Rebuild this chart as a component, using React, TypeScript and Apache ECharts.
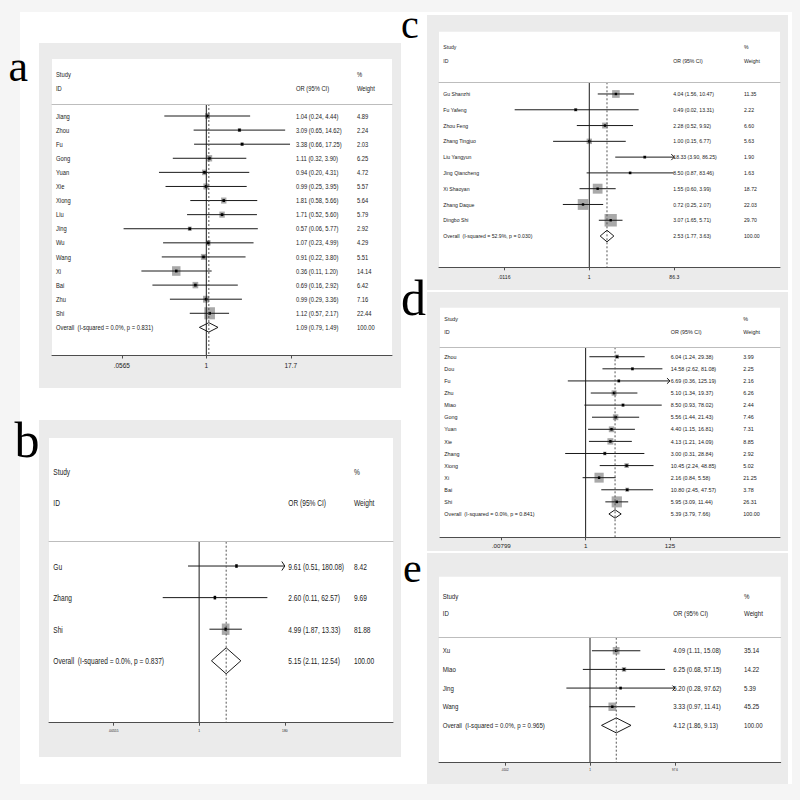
import React, { useEffect, useRef } from 'react';
import * as echarts from 'echarts';

const FONT = '"Liberation Sans", Arial, Helvetica, sans-serif';
const SERIF = '"Liberation Serif", "Times New Roman", serif';
const BOX = '#a9a9a9';
const INK = '#1a1a1a';
const TXT = '#222222';

// ---------- Panel a ----------
const aStudies = ['Jiang', 'Zhou', 'Fu', 'Gong', 'Yuan', 'Xie', 'Xiong', 'Liu', 'Jing', 'Wu', 'Wang', 'Xi', 'Bai', 'Zhu', 'Shi'];
const aOR = [1.04, 3.09, 3.38, 1.11, 0.94, 0.99, 1.81, 1.71, 0.57, 1.07, 0.91, 0.36, 0.69, 0.99, 1.12];
const aLow = [0.24, 0.65, 0.66, 0.32, 0.2, 0.25, 0.58, 0.52, 0.06, 0.23, 0.22, 0.11, 0.16, 0.29, 0.57];
const aHigh = [4.44, 14.62, 17.25, 3.9, 4.31, 3.95, 5.66, 5.6, 5.77, 4.99, 3.8, 1.2, 2.92, 3.36, 2.17];
const aWeight = [4.89, 2.24, 2.03, 6.25, 4.72, 5.57, 5.64, 5.79, 2.92, 4.29, 5.51, 14.14, 6.42, 7.16, 22.44];
const aOverall = [1.09, 0.79, 1.49];
const aHet = 'Overall  (I-squared = 0.0%, p = 0.831)';
const aTicks = [0.0565, 1, 17.7];
const aTickLabels = ['.0565', '1', '17.7'];

// ---------- Panel b ----------
const bStudies = ['Gu', 'Zhang', 'Shi'];
const bOR = [9.61, 2.6, 4.99];
const bLow = [0.51, 0.11, 1.87];
const bHigh = [180.08, 62.57, 13.33];
const bWeight = [8.42, 9.69, 81.88];
const bOverall = [5.15, 2.11, 12.54];
const bHet = 'Overall  (I-squared = 0.0%, p = 0.837)';
const bTicks = [0.00555, 1, 180];
const bTickLabels = ['.00555', '1', '180'];

// ---------- Panel c ----------
const cStudies = ['Gu Shanzhi', 'Fu Yafeng', 'Zhou Feng', 'Zhang Tingjuo', 'Liu Yangyun', 'Jing Qiancheng', 'Xi Shaoyan', 'Zhang Daque', 'Dingbo Shi'];
const cOR = [4.04, 0.49, 2.28, 1.0, 18.33, 8.5, 1.55, 0.72, 3.07];
const cLow = [1.56, 0.02, 0.52, 0.15, 3.9, 0.87, 0.6, 0.25, 1.65];
const cHigh = [10.47, 13.31, 9.92, 6.77, 86.25, 83.46, 3.99, 2.07, 5.71];
const cWeight = [11.35, 2.22, 6.6, 5.63, 1.9, 1.63, 18.72, 22.03, 29.7];
const cOverall = [2.53, 1.77, 3.63];
const cHet = 'Overall  (I-squared = 52.9%, p = 0.030)';
const cTicks = [0.0116, 1, 86.3];
const cTickLabels = ['.0116', '1', '86.3'];

// ---------- Panel d ----------
const dStudies = ['Zhou', 'Dou', 'Fu', 'Zhu', 'Miao', 'Gong', 'Yuan', 'Xie', 'Zhang', 'Xiong', 'Xi', 'Bai', 'Shi'];
const dOR = [6.04, 14.58, 6.69, 5.1, 8.5, 5.56, 4.4, 4.13, 3.0, 10.45, 2.16, 10.8, 5.95];
const dLow = [1.24, 2.62, 0.36, 1.34, 0.93, 1.44, 1.15, 1.21, 0.31, 2.24, 0.84, 2.45, 3.09];
const dHigh = [29.38, 81.08, 125.19, 19.37, 78.02, 21.43, 16.81, 14.09, 28.84, 48.85, 5.58, 47.57, 11.44];
const dWeight = [3.99, 2.25, 2.16, 6.26, 2.44, 7.46, 7.31, 8.85, 2.92, 5.02, 21.25, 3.78, 26.31];
const dOverall = [5.39, 3.79, 7.66];
const dHet = 'Overall  (I-squared = 0.0%, p = 0.841)';
const dTicks = [0.00799, 1, 125];
const dTickLabels = ['.00799', '1', '125'];

// ---------- Panel e ----------
const eStudies = ['Xu', 'Miao', 'Jing', 'Wang'];
const eOR = [4.09, 6.25, 5.2, 3.33];
const eLow = [1.11, 0.68, 0.28, 0.97];
const eHigh = [15.08, 57.15, 97.62, 11.41];
const eWeight = [35.14, 14.22, 5.39, 45.25];
const eOverall = [4.12, 1.86, 9.13];
const eHet = 'Overall  (I-squared = 0.0%, p = 0.965)';
const eTicks = [0.0102, 1, 97.6];
const eTickLabels = ['.0102', '1', '97.6'];

type PanelData = {
  names: string[]; or: number[]; lo: number[]; hi: number[]; w: number[];
  overall: number[]; het: string; ticks: number[]; tickLabels: string[];
};

const panels: PanelData[] = [
  { names: aStudies, or: aOR, lo: aLow, hi: aHigh, w: aWeight, overall: aOverall, het: aHet, ticks: aTicks, tickLabels: aTickLabels },
  { names: bStudies, or: bOR, lo: bLow, hi: bHigh, w: bWeight, overall: bOverall, het: bHet, ticks: bTicks, tickLabels: bTickLabels },
  { names: cStudies, or: cOR, lo: cLow, hi: cHigh, w: cWeight, overall: cOverall, het: cHet, ticks: cTicks, tickLabels: cTickLabels },
  { names: dStudies, or: dOR, lo: dLow, hi: dHigh, w: dWeight, overall: dOverall, het: dHet, ticks: dTicks, tickLabels: dTickLabels },
  { names: eStudies, or: eOR, lo: eLow, hi: eHigh, w: eWeight, overall: eOverall, het: eHet, ticks: eTicks, tickLabels: eTickLabels },
];

// ---------- layout (pixels) ----------
type Layout = {
  gray: number[]; white: number[];
  gridL: number; gridR: number; gridT: number; gridB: number;
  xMin: number; xMax: number; yMin: number; yMax: number;
  nameX: number; orX: number; wX: number; studyY: number; idY: number;
  fs: number; sy: number; bw: number; bh: number; pw: number; ph: number;
  dh: number; aw: number; ah: number;
  tickLen: number; tickFs: number; tickMargin: number;
  letter: string; letterX: number; letterY: number; letterFs: number;
};

const layouts: Layout[] = [
  {
    gray: [39, 43, 401, 388], white: [52, 59, 392, 355],
    gridL: 52, gridR: 392, gridT: 104, gridB: 355,
    xMin: -5.248, xMax: 6.316, yMin: -0.852, yMax: 16.96,
    nameX: 56, orX: 296, wX: 357, studyY: 74, idY: 88,
    fs: 5.8, sy: 1.1, bw: 2.25, bh: 2.55, pw: 2.6, ph: 2.8, dh: 4.7, aw: 3, ah: 3,
    tickLen: 3.5, tickFs: 6.5, tickMargin: 6.5,
    letter: 'a', letterX: 8.5, letterY: 66.6, letterFs: 44,
  },
  {
    gray: [39, 420, 401, 757], white: [49, 438, 393, 722.7],
    gridL: 49, gridR: 393, gridT: 541.7, gridB: 722.7,
    xMin: -9.1, xMax: 11.75, yMin: -0.77, yMax: 4.96,
    nameX: 53.3, orX: 288.3, wX: 354, studyY: 471.7, idY: 502.7,
    fs: 6.6, sy: 1.48, bw: 0.85, bh: 1.25, pw: 2.4, ph: 3.4, dh: 13, aw: 3, ah: 4.5,
    tickLen: 3, tickFs: 3.3, tickMargin: 7,
    letter: 'b', letterX: 14.5, letterY: 439.5, letterFs: 50,
  },
  {
    gray: [427, 15, 788, 290], white: [439, 31.7, 780, 267.3],
    gridL: 439, gridR: 780, gridT: 82.3, gridB: 267.3,
    xMin: -7.88, xMax: 10.0, yMin: -0.74, yMax: 10.98,
    nameX: 443.3, orX: 673.3, wX: 744, studyY: 46.7, idY: 60.7,
    fs: 5.15, sy: 1.05, bw: 2.25, bh: 2.3, pw: 2.4, ph: 2.4, dh: 5.8, aw: 3, ah: 3,
    tickLen: 3, tickFs: 5.1, tickMargin: 7.5,
    letter: 'c', letterX: 401, letterY: 24, letterFs: 40,
  },
  {
    gray: [427, 292, 788, 551], white: [440, 307.7, 780, 537.3],
    gridL: 440, gridR: 780, gridT: 347.3, gridB: 537.3,
    xMin: -8.34, xMax: 11.13, yMin: -0.78, yMax: 14.93,
    nameX: 444.3, orX: 670.7, wX: 743.3, studyY: 319.3, idY: 332.3,
    fs: 5.4, sy: 1.15, bw: 2.0, bh: 2.15, pw: 2.4, ph: 2.6, dh: 4.2, aw: 3, ah: 2.8,
    tickLen: 3, tickFs: 6.2, tickMargin: 5.3,
    letter: 'd', letterX: 401, letterY: 297.5, letterFs: 50,
  },
  {
    gray: [427, 553, 788, 784], white: [439, 576.7, 780.7, 762.7],
    gridL: 439, gridR: 780.7, gridT: 637.7, gridB: 762.7,
    xMin: -8.14, xMax: 10.28, yMin: -0.7, yMax: 6.0,
    nameX: 442.7, orX: 673.3, wX: 744, studyY: 596.7, idY: 613.3,
    fs: 6.1, sy: 1.2, bw: 1.15, bh: 1.25, pw: 2.4, ph: 2.6, dh: 7.5, aw: 2.5, ah: 2.5,
    tickLen: 3, tickFs: 3, tickMargin: 5.8,
    letter: 'e', letterX: 403, letterY: 568, letterFs: 42,
  },
];

const f2 = (v: number) => v.toFixed(2);

const txt = (text: string, x: number, y: number, fs: number, sy: number, z = 10) => ({
  type: 'text',
  x, y, scaleY: sy, z,
  style: {
    text, x: 0, y: 0, fontSize: fs, fontFamily: FONT, fill: TXT,
    align: 'left', verticalAlign: 'middle', textAlign: 'left', textVerticalAlign: 'middle',
  },
});

function studyRenderer(P: PanelData, L: Layout) {
  const n = P.names.length;
  const tickMax = P.ticks[P.ticks.length - 1];
  return (params: any, api: any) => {
    const idx = params.dataIndex;
    const row = api.value(0);
    const est = api.value(1);
    const lo = api.value(2);
    const hi = api.value(3);
    const w = api.value(4);
    const pe = api.coord([est, row]);
    const xe = pe[0];
    const y = pe[1];
    const xl = api.coord([lo, row])[0];
    const xh = api.coord([hi, row])[0];
    const children: any[] = [];
    const isOverall = idx === n;
    if (isOverall) {
      children.push({
        type: 'polygon',
        shape: { points: [[xl, y], [xe, y - L.dh], [xh, y], [xe, y + L.dh]] },
        style: { fill: 'none', stroke: INK, lineWidth: 1 },
      });
    } else {
      const s = Math.sqrt(w);
      children.push({
        type: 'rect',
        shape: { x: xe - (L.bw * s) / 2, y: y - (L.bh * s) / 2, width: L.bw * s, height: L.bh * s },
        style: { fill: BOX },
      });
      children.push({
        type: 'line',
        shape: { x1: xl, y1: y, x2: xh, y2: y },
        style: { stroke: INK, lineWidth: 1 },
      });
      if (P.hi[idx] >= tickMax * 0.99) {
        children.push({
          type: 'polyline',
          shape: { points: [[xh - L.aw, y - L.ah], [xh, y], [xh - L.aw, y + L.ah]] },
          style: { stroke: INK, fill: 'none', lineWidth: 1 },
        });
      }
      children.push({
        type: 'rect',
        shape: { x: xe - L.pw / 2, y: y - L.ph / 2, width: L.pw, height: L.ph },
        style: { fill: '#000' },
      });
    }
    const name = isOverall ? P.het : P.names[idx];
    const vals = isOverall ? P.overall : [P.or[idx], P.lo[idx], P.hi[idx]];
    const wt = isOverall ? 100 : P.w[idx];
    children.push(txt(name, L.nameX, y, L.fs, L.sy));
    children.push(txt(`${f2(vals[0])} (${f2(vals[1])}, ${f2(vals[2])})`, L.orX, y, L.fs, L.sy));
    children.push(txt(f2(wt), L.wX, y, L.fs, L.sy));
    return { type: 'group', children };
  };
}

function refRenderer() {
  return (params: any, api: any) => {
    const x = api.coord([api.value(0), 0])[0];
    const cs = params.coordSys;
    const dashed = params.dataIndex === 1;
    return {
      type: 'line',
      shape: { x1: x, y1: cs.y, x2: x, y2: cs.y + cs.height },
      style: dashed
        ? { stroke: '#555', lineWidth: 1, lineDash: [2, 2] }
        : { stroke: INK, lineWidth: 1 },
    };
  };
}

function buildOption() {
  const grid: any[] = [];
  const xAxis: any[] = [];
  const yAxis: any[] = [];
  const series: any[] = [];
  const elements: any[] = [];

  // page background strips
  elements.push({ type: 'rect', z: -20, shape: { x: 0, y: 0, width: 800, height: 12 }, style: { fill: '#f5f5f5' } });
  elements.push({ type: 'rect', z: -20, shape: { x: 0, y: 0, width: 20, height: 800 }, style: { fill: '#f5f5f5' } });
  elements.push({ type: 'rect', z: -20, shape: { x: 0, y: 784, width: 800, height: 16 }, style: { fill: '#f5f5f5' } });
  elements.push({ type: 'rect', z: -20, shape: { x: 792, y: 0, width: 8, height: 800 }, style: { fill: '#f5f5f5' } });

  panels.forEach((P, i) => {
    const L = layouts[i];
    const ticksLn = P.ticks.map((t) => Math.log(t));
    const fmt = (v: number) => {
      let best = 0;
      for (let k = 1; k < ticksLn.length; k++) {
        if (Math.abs(ticksLn[k] - v) < Math.abs(ticksLn[best] - v)) best = k;
      }
      return P.tickLabels[best];
    };

    elements.push({
      type: 'rect', z: -10,
      shape: { x: L.gray[0], y: L.gray[1], width: L.gray[2] - L.gray[0], height: L.gray[3] - L.gray[1] },
      style: { fill: '#ebebeb' },
    });
    elements.push({
      type: 'rect', z: -9,
      shape: { x: L.white[0], y: L.white[1], width: L.white[2] - L.white[0], height: L.white[3] - L.white[1] },
      style: { fill: '#ffffff' },
    });
    elements.push(txt('Study', L.nameX, L.studyY, L.fs, L.sy));
    elements.push(txt('ID', L.nameX, L.idY, L.fs, L.sy));
    elements.push(txt('OR (95% CI)', L.orX, L.idY, L.fs, L.sy));
    elements.push(txt('%', L.wX, L.studyY, L.fs, L.sy));
    elements.push(txt('Weight', L.wX, L.idY, L.fs, L.sy));
    elements.push({
      type: 'text', z: 10, x: L.letterX, y: L.letterY,
      style: {
        text: L.letter, x: 0, y: 0, fontSize: L.letterFs, fontFamily: SERIF, fill: '#000',
        align: 'left', verticalAlign: 'middle', textAlign: 'left', textVerticalAlign: 'middle',
      },
    });

    grid.push({
      left: L.gridL, top: L.gridT, width: L.gridR - L.gridL, height: L.gridB - L.gridT,
      containLabel: false, outerBoundsMode: 'none', show: false,
    });

    xAxis.push({
      gridIndex: i, type: 'value', position: 'bottom', min: L.xMin, max: L.xMax, z: 5,
      axisLine: { show: true, onZero: false, lineStyle: { color: '#4d4d4d', width: 1 } },
      axisTick: { show: true, length: L.tickLen, customValues: ticksLn, lineStyle: { color: '#4d4d4d', width: 1 } },
      axisLabel: {
        show: true, customValues: ticksLn, formatter: fmt, fontSize: L.tickFs, fontFamily: FONT,
        color: TXT, margin: L.tickMargin, hideOverlap: false,
      },
      splitLine: { show: false },
    });
    xAxis.push({
      gridIndex: i, type: 'value', position: 'top', min: L.xMin, max: L.xMax, z: 5,
      axisLine: { show: true, onZero: false, lineStyle: { color: '#bdbdbd', width: 1 } },
      axisTick: { show: false }, axisLabel: { show: false }, splitLine: { show: false },
    });
    yAxis.push({ gridIndex: i, type: 'value', inverse: true, min: L.yMin, max: L.yMax, show: false });

    const rows: number[][] = P.names.map((_, k) => [k, Math.log(P.or[k]), Math.log(P.lo[k]), Math.log(P.hi[k]), P.w[k]]);
    rows.push([P.names.length, Math.log(P.overall[0]), Math.log(P.overall[1]), Math.log(P.overall[2]), 100]);

    series.push({
      type: 'custom', coordinateSystem: 'cartesian2d', xAxisIndex: 2 * i, yAxisIndex: i, z: 2,
      renderItem: studyRenderer(P, L), data: rows, silent: true, clip: false,
    });
    series.push({
      type: 'custom', coordinateSystem: 'cartesian2d', xAxisIndex: 2 * i, yAxisIndex: i, z: 3,
      renderItem: refRenderer(), data: [[0, 0], [Math.log(P.overall[0]), 0]], silent: true, clip: false,
    });
  });

  return {
    animation: false,
    backgroundColor: '#ffffff',
    grid, xAxis, yAxis, series,
    graphic: { elements },
  };
}

export default function App() {
  const ref = useRef<HTMLDivElement>(null);
  useEffect(() => {
    if (!ref.current) return;
    const chart = echarts.init(ref.current, undefined, { renderer: 'svg' });
    chart.setOption(buildOption() as any);
    return () => chart.dispose();
  }, []);
  return (
    <div
      ref={ref}
      style={{ position: 'fixed', left: 0, top: 0, width: 800, height: 800, background: '#fff' }}
    />
  );
}
